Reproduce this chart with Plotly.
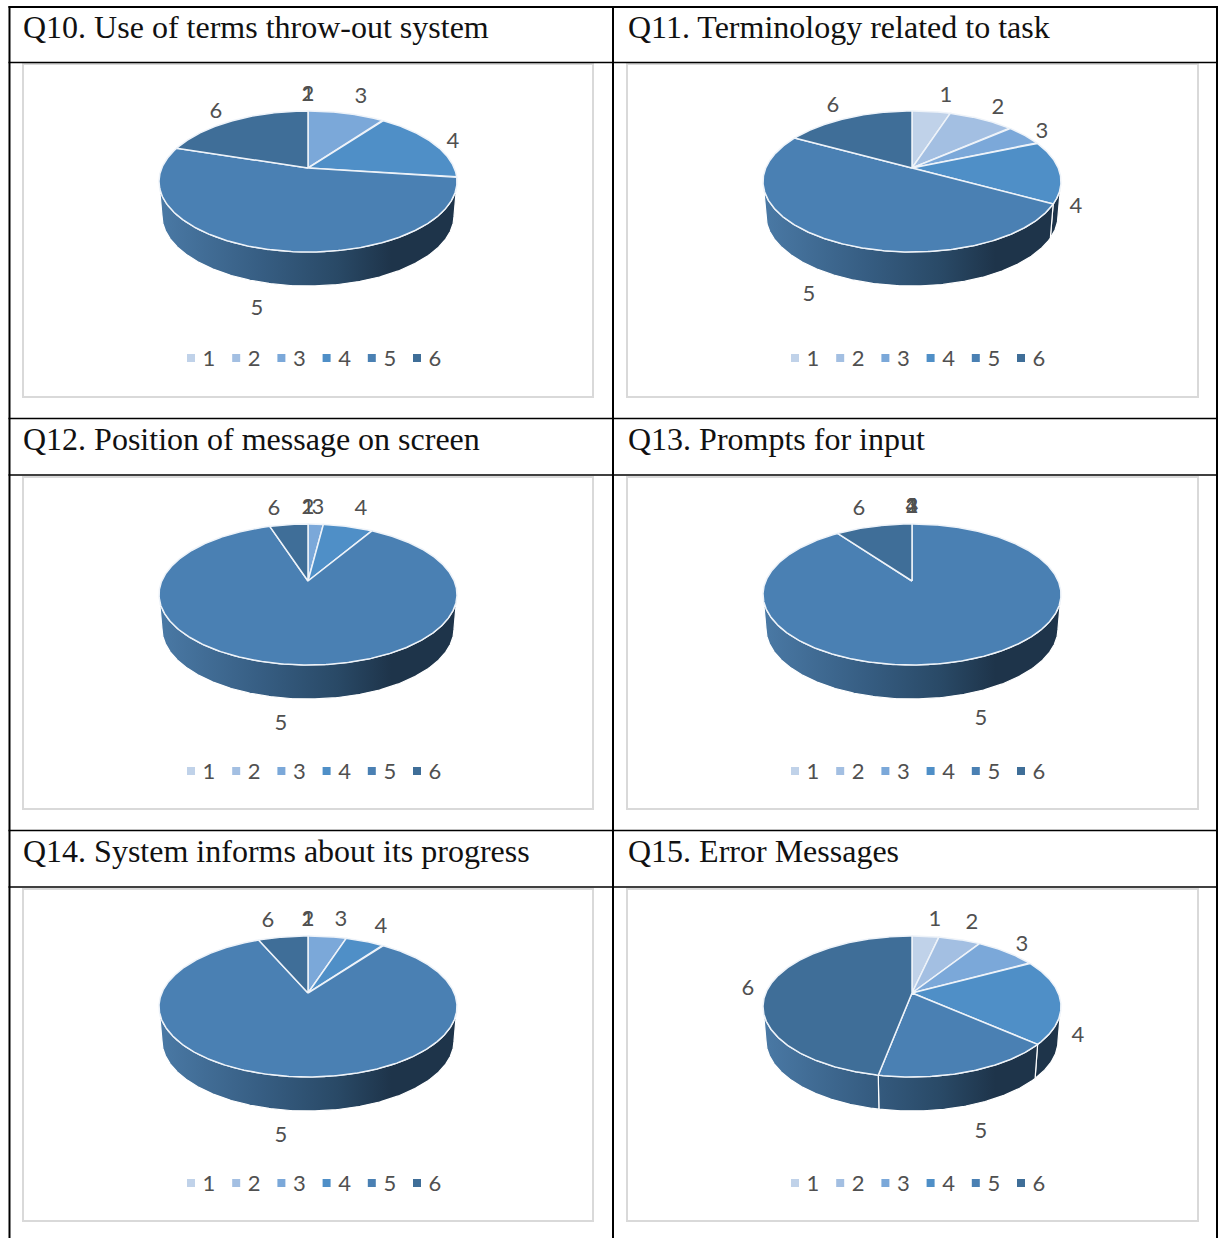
import math
import plotly.graph_objects as go

WIDTH, HEIGHT = 1218, 1238

TITLES = [
    "Q10. Use of terms throw-out system",
    "Q11. Terminology related to task",
    "Q12. Position of message on screen",
    "Q13. Prompts for input",
    "Q14. System informs about its progress",
    "Q15. Error Messages",
]
CATEGORIES = ["1", "2", "3", "4", "5", "6"]

# Share of responses per rating, one list per question
Q10 = [0, 0, 10, 17, 53, 20]
Q11 = [5, 8.5, 5, 14.5, 50, 17]
Q12 = [0, 0, 2, 6.5, 86.5, 5]
Q13 = [0, 0, 0, 0, 90, 10]
Q14 = [0, 0, 5, 5, 83.5, 6.5]
Q15 = [3.5, 5.5, 8, 19.5, 16.5, 47]
SERIES = [Q10, Q11, Q12, Q13, Q14, Q15]

COLORS = ["#c0d2e9", "#a3bfe2", "#7ba8d9", "#4f8fc7", "#4a80b3", "#3f6e98"]
WALL_SCALE = [[0, "#4a79a5"], [0.35, "#365d82"], [0.6, "#294966"],
              [0.78, "#1e344a"], [1, "#1e344a"]]
GREY = "#505050"

# Pixel geometry of the drawing area
COL_FRAMES = [(23, 593), (627, 1198)]
ROW_FRAMES = [(64, 397), (477, 809), (889, 1221)]
APEX_X = [308, 912]
APEX_Y = [168, 581, 993]
TITLE_Y = [27, 439, 851]
TITLE_X = [24, 629]
V_RULES = [9.5, 613, 1217]
H_RULES = [7, 62.5, 418.5, 475, 830.5, 887]

# Projection of the tilted disc: flattened and receding towards the top
TILT = 27 / 141
HEIGHT_SCALE = 57 * (1 + TILT)
WIDTH_SCALE = 149 * math.sqrt(1 - TILT ** 2)
DEPTH = 34
BASE_SHRINK = 0.98
FRONT_START = math.degrees(math.acos(-TILT))
FRONT_END = 360 - FRONT_START

# Data label anchors, pixels from the pie apex (x right, y down)
LABEL_OFFSETS = [
    [(0, -75), (0, -75), (53, -73), (145, -28), (-51, 139), (-92, -58)],
    [(34, -74), (86, -62), (130, -38), (164, 37), (-103, 125), (-79, -64)],
    [(0, -75), (0, -75), (10, -75), (53, -74), (-27, 141), (-34, -74)],
    [(0, -76), (0, -76), (0, -76), (0, -76), (69, 136), (-53, -74)],
    [(0, -75), (0, -75), (33, -75), (73, -68), (-27, 141), (-40, -74)],
    [(23, -75), (60, -72), (110, -50), (166, 41), (69, 137), (-164, -6)],
]
LABEL_DROP = 2
LEGEND_FIRST_KEY = -117
LEGEND_STEP = 45.2
LEGEND_TEXT_GAP = 18
LEGEND_Y = 190


def rim(angle):
    """Top rim point of the disc for a clockwise angle from twelve o'clock."""
    a = math.radians(angle)
    w = 1 + TILT * math.cos(a)
    return WIDTH_SCALE * math.sin(a) / w, HEIGHT_SCALE * math.cos(a) / w


def arc(start, end):
    n = max(2, int((end - start) * 2) + 1)
    return [start + (end - start) * i / (n - 1) for i in range(n)]


fig = go.Figure()
layout = dict(
    width=WIDTH, height=HEIGHT, margin=dict(l=0, r=0, t=0, b=0),
    paper_bgcolor="white", plot_bgcolor="white", showlegend=False,
    hovermode=False, shapes=[], annotations=[],
)

for v in V_RULES:
    layout["shapes"].append(dict(type="line", xref="paper", yref="paper", layer="above",
                                 x0=v / WIDTH, x1=v / WIDTH, y0=1 - 6 / HEIGHT, y1=0,
                                 line=dict(color="black", width=2)))
for h in H_RULES:
    layout["shapes"].append(dict(type="line", xref="paper", yref="paper", layer="above",
                                 x0=8.5 / WIDTH, x1=1218 / WIDTH,
                                 y0=1 - h / HEIGHT, y1=1 - h / HEIGHT,
                                 line=dict(color="black", width=2 if h == 7 else 1.6)))

for idx, (title, values) in enumerate(zip(TITLES, SERIES)):
    row, col = divmod(idx, 2)
    left, right = COL_FRAMES[col]
    top, bottom = ROW_FRAMES[row]
    ax, ay = APEX_X[col], APEX_Y[row]
    suffix = "" if idx == 0 else str(idx + 1)
    xref, yref = "x" + suffix, "y" + suffix

    common = dict(visible=False, fixedrange=True, showgrid=False, zeroline=False)
    layout["xaxis" + suffix] = dict(common, domain=[left / WIDTH, right / WIDTH],
                                    range=[left - ax, right - ax], anchor=yref)
    layout["yaxis" + suffix] = dict(common, domain=[1 - bottom / HEIGHT, 1 - top / HEIGHT],
                                    range=[ay - bottom, ay - top], anchor=xref)

    layout["shapes"].append(dict(type="rect", xref="paper", yref="paper", layer="below",
                                 x0=left / WIDTH, x1=right / WIDTH,
                                 y0=1 - bottom / HEIGHT, y1=1 - top / HEIGHT,
                                 line=dict(color="#d9d9d9", width=2)))
    layout["annotations"].append(dict(
        text=title, xref="paper", yref="paper", showarrow=False,
        x=TITLE_X[col] / WIDTH, y=1 - TITLE_Y[row] / HEIGHT,
        xanchor="left", yanchor="middle", xshift=-3,
        font=dict(family="Liberation Serif", size=32, color="#111111")))

    total = sum(values)
    edges = [0]
    for v in values:
        edges.append(edges[-1] + v / total * 360)

    # Side wall, only where a slice faces the viewer
    for i in range(6):
        s, e = max(edges[i], FRONT_START), min(edges[i + 1], FRONT_END)
        if e <= s:
            continue
        angles = arc(s, e)
        upper = [rim(a) for a in angles]
        lower = [(x * BASE_SHRINK, y - DEPTH) for x, y in upper]
        ring = upper + lower[::-1] + upper[:1]
        fig.add_trace(go.Scatter(
            x=[p[0] for p in ring], y=[p[1] for p in ring], mode="lines",
            xaxis=xref, yaxis=yref, fill="toself",
            line=dict(color="white", width=1.2),
            fillgradient=dict(type="horizontal", colorscale=WALL_SCALE, start=-149, stop=149),
            hoverinfo="skip"))

    # Top face slices
    for i in range(6):
        if values[i] == 0:
            continue
        pts = [rim(a) for a in arc(edges[i], edges[i + 1])]
        ring = [(0, 0)] + pts + [(0, 0)]
        fig.add_trace(go.Scatter(
            x=[p[0] for p in ring], y=[p[1] for p in ring], mode="lines",
            xaxis=xref, yaxis=yref, fill="toself", fillcolor=COLORS[i],
            line=dict(color="#eef3f9", width=1.5), hoverinfo="skip"))

    # Data labels
    offsets = LABEL_OFFSETS[idx]
    fig.add_trace(go.Scatter(
        x=[o[0] for o in offsets], y=[-o[1] - LABEL_DROP for o in offsets], mode="text",
        text=CATEGORIES, textposition="middle center", xaxis=xref, yaxis=yref,
        textfont=dict(family="Lato", size=22, color=GREY), hoverinfo="skip"))

    # Legend keys and their captions
    keys = [LEGEND_FIRST_KEY + LEGEND_STEP * i for i in range(6)]
    fig.add_trace(go.Scatter(
        x=keys, y=[-LEGEND_Y] * 6, mode="markers", xaxis=xref, yaxis=yref,
        marker=dict(symbol="square", size=8, color=COLORS, line=dict(width=0)),
        hoverinfo="skip"))
    fig.add_trace(go.Scatter(
        x=[k + LEGEND_TEXT_GAP for k in keys], y=[-LEGEND_Y - LABEL_DROP] * 6, mode="text",
        text=CATEGORIES, textposition="middle center", xaxis=xref, yaxis=yref,
        textfont=dict(family="Lato", size=22, color=GREY), hoverinfo="skip"))

fig.update_layout(**layout)
fig.write_html("out.html")
